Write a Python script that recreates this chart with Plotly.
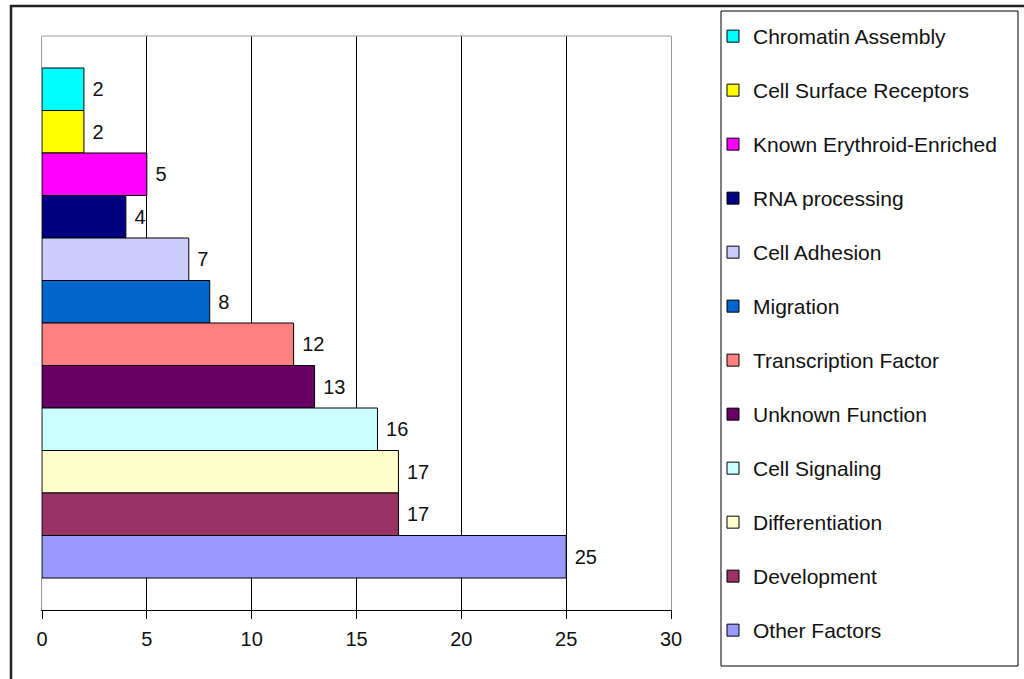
import plotly.graph_objects as go

# Functional categories, listed from the top bar downward
categories = [
    "Chromatin Assembly", "Cell Surface Receptors", "Known Erythroid-Enriched",
    "RNA processing", "Cell Adhesion", "Migration", "Transcription Factor",
    "Unknown Function", "Cell Signaling", "Differentiation", "Development",
    "Other Factors",
]
gene_counts = [2, 2, 5, 4, 7, 8, 12, 13, 16, 17, 17, 25]
bar_colors = [
    "#00FFFF", "#FFFF00", "#FF00FF", "#000080", "#CCCCFF", "#0066CC",
    "#FF8080", "#660066", "#CCFFFF", "#FFFFCC", "#993366", "#9999FF",
]
x_ticks = [0, 5, 10, 15, 20, 25, 30]

FONT = "Arial, Liberation Sans, sans-serif"
W, H = 1024, 679
PL, PR, PT, PB = 42, 671, 36, 610  # plot area in pixels


def px_x(px):
    return (px - PL) / (PR - PL)


def px_y(py):
    return (PB - py) / (PB - PT)


fig = go.Figure()
for name, val, col in zip(categories, gene_counts, bar_colors):
    fig.add_trace(go.Bar(
        y=[""], x=[val], name=name, orientation="h",
        marker=dict(color=col, line=dict(color="#000000", width=1)),
        text=[val], texttemplate=" %{x}", textposition="outside",
        textfont=dict(family=FONT, size=20, color="#111111"),
        cliponaxis=False, legendgroup=name,
    ))

fig.update_layout(
    width=W, height=H,
    margin=dict(l=PL, r=W - PR, t=PT, b=H - PB, pad=0),
    paper_bgcolor="white", plot_bgcolor="white",
    barmode="group", bargap=0.1115, bargroupgap=0,
    font=dict(family=FONT, size=20, color="#111111"),
    showlegend=True,
    legend=dict(
        x=px_x(713), xanchor="left", y=px_y(16), yanchor="top",
        traceorder="grouped", tracegroupgap=23.7, maxheight=720,
        font=dict(family=FONT, size=21, color="#111111"),
        bgcolor="rgba(0,0,0,0)", borderwidth=0,
    ),
    xaxis=dict(
        range=[0, 30], tickvals=x_ticks, ticks="outside", ticklen=8,
        tickcolor="#000000", showline=True, linecolor="#000000", linewidth=1,
        showgrid=True, gridcolor="#000000", gridwidth=1, zeroline=False,
        tickfont=dict(family=FONT, size=20, color="#111111"),
        ticklabelstandoff=3,
    ),
    yaxis=dict(
        range=[0.5, -0.5], showticklabels=False, ticks="",
        showline=True, linecolor="#999999", linewidth=1, mirror=True,
        showgrid=False, zeroline=False,
    ),
    shapes=[
        # top edge of plot frame
        dict(type="line", xref="paper", yref="paper", x0=0, x1=1, y0=1, y1=1,
             line=dict(color="#999999", width=1)),
        # legend box
        dict(type="rect", xref="paper", yref="paper",
             x0=px_x(721), x1=px_x(1018), y0=px_y(11), y1=px_y(666),
             line=dict(color="#000000", width=1)),
        # outer chart border
        dict(type="rect", xref="paper", yref="paper",
             x0=px_x(11), x1=px_x(1040), y0=px_y(6), y1=px_y(700),
             line=dict(color="#222222", width=2.5)),
    ],
)

fig.write_html("out.html")
